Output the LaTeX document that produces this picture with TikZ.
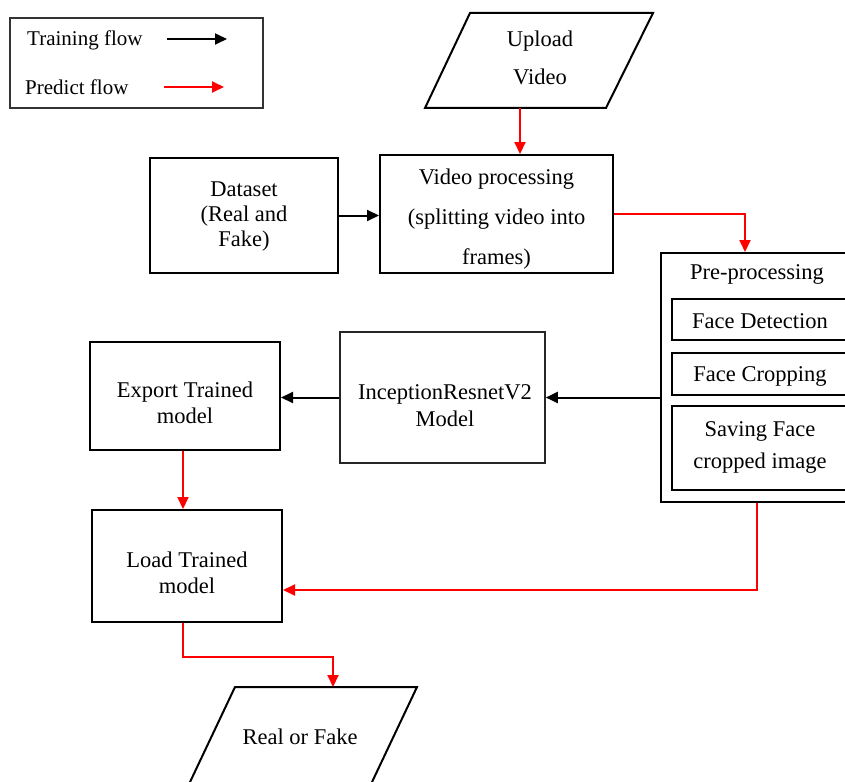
\documentclass[tikz,border=0pt]{standalone}
\usepackage{fontspec}
\setmainfont{Liberation Serif}
\usetikzlibrary{arrows.meta}
\begin{document}
\begin{tikzpicture}[x=1pt,y=-1pt,
  box/.style={draw=black, line width=2pt, inner sep=0pt},
  thinbox/.style={draw=black!85, line width=1.6pt, inner sep=0pt},
  txt/.style={align=center, inner sep=0pt, font=\fontsize{22.5}{26}\selectfont},
  legtxt/.style={anchor=west, inner sep=0pt, font=\fontsize{21}{24}\selectfont},
  blk/.style={draw=black, line width=2pt, -{Triangle[length=12pt,width=11pt]}},
  redarr/.style={draw=red, line width=2pt, -{Triangle[length=12pt,width=11pt]}},
  para/.style={draw=black, line width=2pt, line join=miter},
]
\useasboundingbox (0,0) rectangle (845,781);
\clip (0,0) rectangle (845,781);

% legend
\node[draw=black!80, line width=1.3pt, minimum width=253pt, minimum height=90pt, inner sep=0pt] (legend) at (136.5,63) {};
\node[legtxt] (ltrain) at (27,40) {Training flow};
\node[legtxt] (lpred) at (25,87) {Predict flow};
\coordinate (ltrainA) at (167,39);
\coordinate (ltrainB) at (227,39);
\coordinate (lpredA) at (164,87);
\coordinate (lpredB) at (224,87);
\draw[blk, line width=1.8pt] (ltrainA) -- (ltrainB);
\draw[redarr, line width=1.8pt] (lpredA) -- (lpredB);

% upload video
\draw[para] (470,13) -- (653,13) -- (606,108) -- (425,108) -- cycle;
\node[txt, font=\fontsize{22.5}{38}\selectfont] (upload) at (540,58) {Upload\\Video};
\coordinate (uploadB) at (520,108);

% dataset
\node[box, minimum width=188pt, minimum height=115pt] (dataset) at (244,215.5) {};
\node[txt, font=\fontsize{22.5}{25}\selectfont] (datasett) at (244,217) {Dataset\\(Real and\\Fake)};

% video processing
\node[box, minimum width=233pt, minimum height=118pt] (video) at (496.5,214) {};
\node[txt, font=\fontsize{22.5}{40}\selectfont] (videot) at (496.5,219) {Video processing\\(splitting video into\\frames)};

% pre-processing
\node[box, minimum width=192pt, minimum height=249pt] (pre) at (757,377.5) {};
\node[txt] (pret) at (757,274) {Pre-processing};
\node[box, minimum width=176pt, minimum height=41pt] (fd) at (760,319.5) {};
\node[txt] (fdt) at (760,321) {Face Detection};
\node[box, minimum width=176pt, minimum height=42pt] (fc) at (760,374) {};
\node[txt] (fct) at (760,376) {Face Cropping};
\node[box, minimum width=176pt, minimum height=84pt] (sv) at (760,448) {};
\node[txt, font=\fontsize{22.5}{32}\selectfont] (svt) at (760,447) {Saving Face\\cropped image};

% inception
\node[thinbox, minimum width=205pt, minimum height=131pt] (incep) at (442.5,397.5) {};
\node[txt, font=\fontsize{22.5}{27}\selectfont] (incept) at (445,406) {InceptionResnetV2\\Model};

% export
\node[box, minimum width=190pt, minimum height=108pt] (export) at (185,396) {};
\node[txt] (exportt) at (185,403) {Export Trained\\model};

% load
\node[box, minimum width=190pt, minimum height=112pt] (load) at (187,566) {};
\node[txt] (loadt) at (187,573) {Load Trained\\model};

% real or fake
\draw[para] (235,687) -- (417,687) -- (363.5,800) -- (181.5,800) -- cycle;
\node[txt] (rof) at (300,737) {Real or Fake};
\coordinate (rofT) at (333,687);

% connectors
\draw[redarr] (uploadB) -- (uploadB |- video.north);
\draw[blk] (dataset.east) -- (dataset.east -| video.west);
\draw[redarr] (video.east) -| (pre.north -| 745,0);
\draw[blk] (pre.west |- incep.east) -- (incep.east);
\draw[blk] (incep.west) -- (incep.west -| export.east);
\draw[redarr] (export.south -| 183,0) -- (load.north -| 183,0);
\draw[redarr] (pre.south) |- (load.east |- 0,590);
\draw[redarr] (load.south -| 183,0) |- (rofT |- 0,657) -- (rofT);
\end{tikzpicture}
\end{document}
